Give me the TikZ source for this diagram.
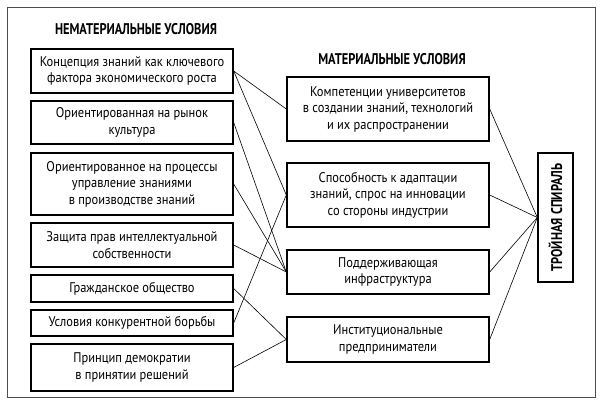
\documentclass[tikz,border=0pt]{standalone}
\usepackage{fontspec}
\setmainfont[FakeStretch=0.89]{PT Sans}
\newfontfamily\headfont[FakeStretch=0.8]{PT Sans}
\begin{document}
\begin{tikzpicture}[x=1pt, y=-1pt,
        cond/.style={draw, line width=1.4pt, minimum width=202pt, inner sep=0pt, align=center, font=\fontsize{14}{16.5}\selectfont},
        head/.style={font=\headfont\fontsize{15.5}{17}\selectfont\bfseries},
        link/.style={line width=0.6pt}]
        \useasboundingbox (0,0) rectangle (600,404);
        \draw[gray!60!black, line width=1pt] (7,8) rectangle (595,397);

        \node[head] (nonmat) at (136,29) {НЕМАТЕРИАЛЬНЫЕ УСЛОВИЯ};
        \node[head] (mat) at (392,59) {МАТЕРИАЛЬНЫЕ УСЛОВИЯ};

        \node[cond, minimum height=44pt] (concept) at (132,71) {Концепция знаний как ключевого\\фактора экономического роста};
        \node[cond, minimum height=43pt] (market) at (132,122.5) {Ориентированная на рынок\\культура};
        \node[cond, minimum height=62pt] (manage) at (132,184) {Ориентированное на процессы\\управление знаниями\\в производстве знаний};
        \node[cond, minimum height=44pt] (rights) at (132,245) {Защита прав интеллектуальной\\собственности};
        \node[cond, minimum height=27pt] (civil) at (132,288.5) {Гражданское общество};
        \node[cond, minimum height=26pt] (compet) at (132,323) {Условия конкурентной борьбы};
        \node[cond, minimum height=47pt] (democ) at (132,367.5) {Принцип демократии\\в принятии решений};

        \node[cond, minimum height=64pt] (univ) at (388,109) {Компетенции университетов\\в создании знаний, технологий\\и их распространении};
        \node[cond, minimum height=64pt] (adapt) at (388,195) {Способность к адаптации\\знаний, спрос на инновации\\со стороны индустрии};
        \node[cond, minimum height=44pt] (infra) at (388,272) {Поддерживающая\\инфраструктура};
        \node[cond, minimum height=45pt] (entre) at (388,339.5) {Институциональные\\предприниматели};

        \node[draw, line width=1.4pt, rotate=90, minimum width=129pt, minimum height=35pt, inner sep=0pt, head] (helix) at (555.5,217.5) {ТРОЙНАЯ СПИРАЛЬ};

        \draw[link] (concept.east) -- (univ.west);
        \draw[link] (concept.east) -- (adapt.west);
        \draw[link] (compet.east) -- (adapt.west);
        \draw[link] (market.east) -- (infra.west);
        \draw[link] (manage.east) -- (infra.west);
        \draw[link] (rights.east) -- (infra.west);
        \draw[link] (civil.east) -- (entre.west);
        \draw[link] (democ.east) -- (entre.west);

        \draw[link] (univ.east) -- (helix.north);
        \draw[link] (adapt.east) -- (helix.north);
        \draw[link] (infra.east) -- (helix.north);
        \draw[link] (entre.east) -- (helix.north);
    \end{tikzpicture}
\end{document}
